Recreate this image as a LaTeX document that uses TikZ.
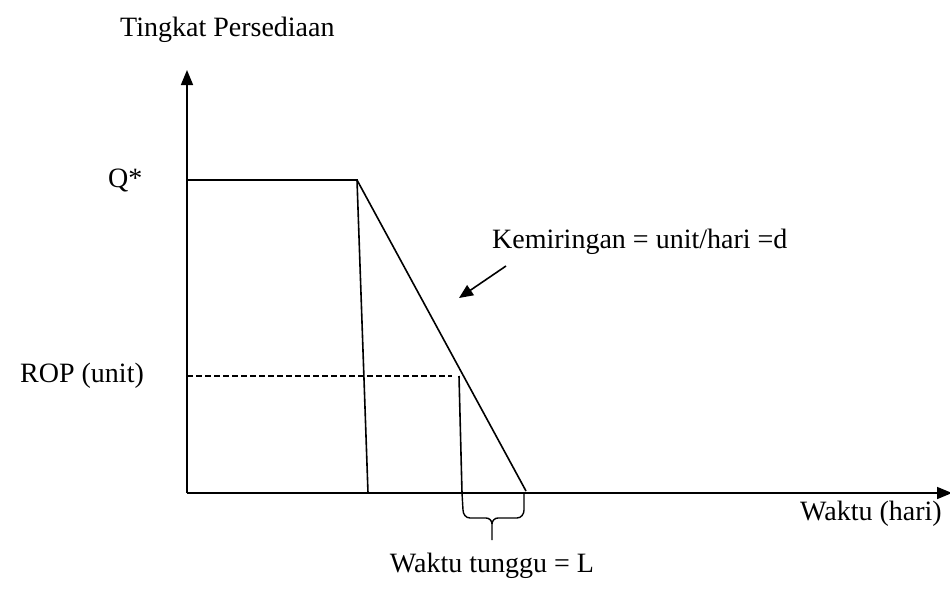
\documentclass[tikz,border=0pt]{standalone}
\usepackage{fontspec}
\setmainfont{Liberation Serif}
\usetikzlibrary{arrows.meta}
\begin{document}
\begin{tikzpicture}[x=1pt,y=-1pt,
  ln/.style={line width=1.6pt},
  lbl/.style={font=\fontsize{28}{32}\selectfont, inner sep=0pt},
  tip/.style={-{Triangle[length=15pt,width=12pt]}}]
\useasboundingbox (0,0) rectangle (950,597);
% coordinates
\coordinate (O) at (187,493);
\coordinate (Ytop) at (187,70);
\coordinate (Xend) at (952,493);
\coordinate (Qa) at (187,180);
\coordinate (Qb) at (357,180);
\coordinate (Qc) at (368,493);
\coordinate (Dend) at (526,491);
\coordinate (Ra) at (187,376);
\coordinate (Rb) at (452,376);
\coordinate (La) at (459,376);
\coordinate (Lb) at (462,493);
\coordinate (As) at (506,266);
\coordinate (Ae) at (459,298);
% axes
\draw[ln,tip] (O) -- (Ytop);
\draw[ln,tip] (O) -- (Xend);
% inventory
\draw[ln] (Qa) -- (Qb) -- (Qc);
\draw[ln] (Qb) -- (Dend);
\draw[line width=1.1pt,dash pattern=on 6pt off 3pt] (Ra) -- (Rb);
\draw[ln] (La) -- (Lb);
% brace
\draw[line width=1.4pt] (462,493) -- (463,510) to[out=-90,in=180] (470,518) -- (486,518)
   to[out=0,in=90] (492,524) -- (492,540);
\draw[line width=1.4pt] (524,493) -- (524,510) to[out=-90,in=0] (517,518) -- (498,518)
   to[out=180,in=90] (492,524);
% arrow to slope
\draw[line width=1.6pt,-{Triangle[length=14pt,width=12pt]}] (As) -- (Ae);
% labels
\node[lbl,anchor=west] (t1) at (120,30) {Tingkat Persediaan};
\node[lbl,anchor=west] (t2) at (108,180) {Q*};
\node[lbl,anchor=west] (t3) at (20,376) {ROP (unit)};
\node[lbl,anchor=west] (t4) at (492,242) {Kemiringan = unit/hari =d};
\node[lbl,anchor=east] (t5) at (942,514) {Waktu (hari)};
\node[lbl] (t6) at (492,566) {Waktu tunggu = L};
\end{tikzpicture}
\end{document}
